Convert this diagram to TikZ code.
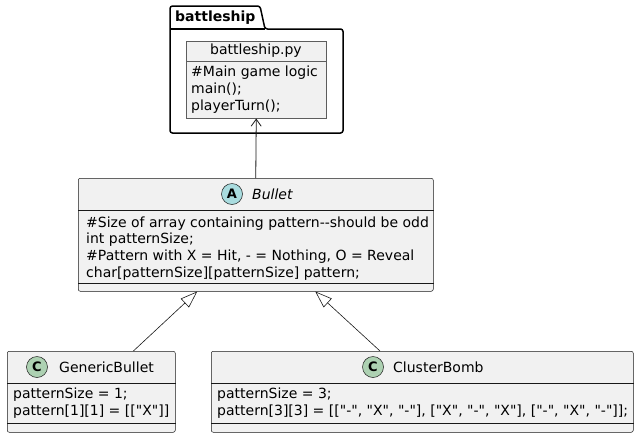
\documentclass[tikz,border=0pt]{standalone}
\usepackage{fontspec}
\setmainfont{DejaVu Sans}[Ligatures=TeXOff]
\usepackage{tikz}
\usetikzlibrary{arrows.meta, positioning, calc}

\definecolor{boxfill}{HTML}{F1F1F1}
\definecolor{boxline}{HTML}{181818}
\definecolor{classgreen}{HTML}{ADD1B2}
\definecolor{abstractblue}{HTML}{A9DCDF}

\begin{document}
\begin{tikzpicture}[
    x=1pt, y=-1pt,
    every node/.style={font=\fontsize{14}{16.6}\selectfont},
    umlbox/.style={rectangle, draw=boxline, line width=0.5pt, fill=boxfill, rounded corners=2pt, anchor=north west, inner sep=0pt},
    objbox/.style={rectangle, draw=boxline!70, line width=0.5pt, fill=boxfill, anchor=north west, inner sep=0pt},
    divider/.style={draw=boxline, line width=0.5pt},
    member/.style={anchor=north west, align=left, inner sep=0pt},
    title/.style={inner sep=0pt},
    badge/.style={circle, draw=boxline, line width=0.5pt, minimum size=21pt, inner sep=0pt, font=\fontsize{13}{13}\selectfont\bfseries},
    dep/.style={-{Straight Barb[length=7pt, width=10pt]}, draw=boxline, line width=0.8pt},
    inherit/.style={-{Triangle[open, length=17pt, width=12pt]}, draw=boxline, line width=0.6pt},
]
\useasboundingbox (0,0) rectangle (639,437);

% package
\draw[line width=1.5pt, rounded corners=2.5pt]
    (170,29) -- (170,6) -- (260,6) -- (265,29) -- (343,29) -- (343,133) -- (170,133) -- cycle;
\draw[line width=1.5pt] (170,29) -- (265,29);
\node[title, font=\fontsize{14}{14}\selectfont\bfseries, anchor=west] (pkglabel) at (175,18) {battleship};

% battleship.py object
\node[objbox, minimum width=140pt, minimum height=77pt] (game) at (186,41) {};
\draw[draw=boxline!70, line width=0.5pt] (game.west |- 0,61) -- (game.east |- 0,61);
\node[title] (gametitle) at (256,51) {battleship.py};
\node[member, font=\fontsize{14}{17}\selectfont] (gamemembers) at (191,66) {\#Main game logic\\main();\\playerTurn();};

% Bullet
\node[umlbox, minimum width=355pt, minimum height=113pt] (bullet) at (78,178) {};
\draw[divider] (bullet.west |- 0,210) -- (bullet.east |- 0,210);
\draw[divider] (bullet.west |- 0,283) -- (bullet.east |- 0,283);
\node[badge, fill=abstractblue] (bulleticon) at (232,194) {A};
\node[title, anchor=west, font=\fontsize{14}{14}\selectfont\itshape] (bullettitle) at (252,194) {Bullet};
\node[member] (bulletmembers) at (86,216.5)
    {\#Size of array containing pattern--should be odd\\int patternSize;\\\#Pattern with X = Hit, - = Nothing, O = Reveal\\char[patternSize][patternSize] pattern;};

% GenericBullet
\node[umlbox, minimum width=168pt, minimum height=81pt] (generic) at (7,351) {};
\draw[divider] (generic.west |- 0,383) -- (generic.east |- 0,383);
\draw[divider] (generic.west |- 0,423) -- (generic.east |- 0,423);
\node[badge, fill=classgreen] (genericicon) at (37,367) {C};
\node[title, anchor=west] (generictitle) at (59,367) {GenericBullet};
\node[member] (genericmembers) at (13,388) {patternSize = 1;\\pattern[1][1] = [["X"]]};

% ClusterBomb
\node[umlbox, minimum width=422pt, minimum height=81pt] (cluster) at (211,351) {};
\draw[divider] (cluster.west |- 0,383) -- (cluster.east |- 0,383);
\draw[divider] (cluster.west |- 0,423) -- (cluster.east |- 0,423);
\node[badge, fill=classgreen] (clustericon) at (373,367) {C};
\node[title, anchor=west] (clustertitle) at (393,367) {ClusterBomb};
\node[member] (clustermembers) at (217,388)
    {patternSize = 3;\\pattern[3][3] = [["-", "X", "-"], ["X", "-", "X"], ["-", "X", "-"]];};

% connectors
\draw[dep] (bullet.north) -- (game.south);
\draw[inherit] ($(generic.north)!0.5!(generic.north east)$) -- ([xshift=-58.5pt]bullet.south);
\draw[inherit] ($(cluster.north)!0.2!(cluster.north west)$) -- ([xshift=59.5pt]bullet.south);
\end{tikzpicture}
\end{document}
